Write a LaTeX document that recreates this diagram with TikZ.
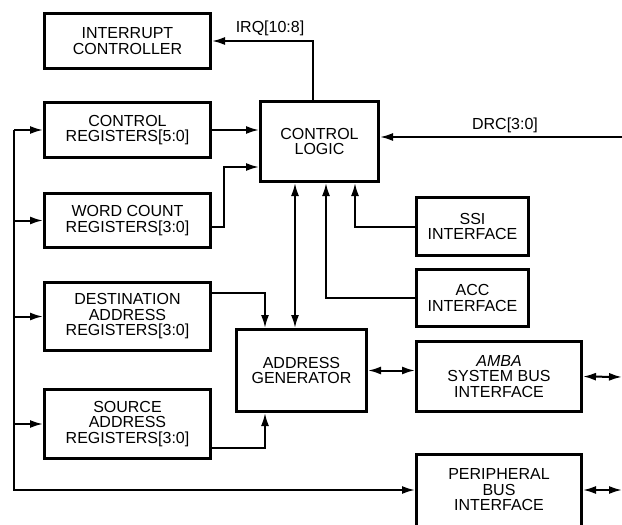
\documentclass[tikz,border=0pt]{standalone}
\usepackage{fontspec}
\setmainfont{Liberation Sans}
\usetikzlibrary{arrows.meta,positioning}

\begin{document}
\begin{tikzpicture}[
  x=1pt, y=-1pt,
  box/.style={draw,line width=3pt,align=center,inner sep=0pt,font=\fontsize{16}{15.5}\selectfont},
  lbl/.style={font=\fontsize{16}{15.5}\selectfont},
  arr/.style={-{Latex[length=13pt,width=8pt]},line width=2pt},
  darr/.style={{Latex[length=13pt,width=8pt]}-{Latex[length=13pt,width=8pt]},line width=2pt}
]
\useasboundingbox (0,0) rectangle (622,525);
\node[box,minimum width=166pt,minimum height=55pt] (intc) at (127.5,41) {INTERRUPT\\CONTROLLER};
\node[box,minimum width=166pt,minimum height=55pt] (ctrlreg) at (127.5,130) {CONTROL\\REGISTERS[5:0]};
\node[box,minimum width=166pt,minimum height=54pt] (wcreg) at (127.5,220.5) {WORD COUNT\\REGISTERS[3:0]};
\node[box,minimum width=166pt,minimum height=68pt] (dest) at (127.5,316.5) {DESTINATION\\ADDRESS\\REGISTERS[3:0]};
\node[box,minimum width=166pt,minimum height=69pt] (src) at (127.5,424) {SOURCE\\ADDRESS\\REGISTERS[3:0]};
\node[box,minimum width=118pt,minimum height=80pt] (logic) at (319.5,141.5) {CONTROL\\LOGIC};
\node[box,minimum width=130pt,minimum height=82pt] (addr) at (301.5,370.5) {ADDRESS\\GENERATOR};
\node[box,minimum width=112pt,minimum height=58pt] (ssi) at (472.5,226.5) {SSI\\INTERFACE};
\node[box,minimum width=112pt,minimum height=57pt] (acc) at (472.5,298) {ACC\\INTERFACE};
\node[box,minimum width=165pt,minimum height=70pt] (amba) at (499,376.5) {\textit{AMBA}\\SYSTEM BUS\\INTERFACE};
\node[box,minimum width=165pt,minimum height=72pt] (periph) at (499,490) {PERIPHERAL\\BUS\\INTERFACE};

% outer ends
\coordinate (busTop) at (14,130);
\coordinate (busBot) at (14,490);
\coordinate (drcIn) at (622,137);
\coordinate (ambaOut) at (622,377);
\coordinate (perOut) at (622,490);

% register bus
\draw[arr] (busTop) -- (busBot) -- (periph.west);
\draw[arr] (busTop) -- (ctrlreg.west);
\draw[arr] (busTop |- wcreg.west) -- (wcreg.west);
\draw[arr] (busTop |- dest.west) -- (dest.west);
\draw[arr] (busTop |- src.west) -- (src.west);

% into control logic
\draw[arr] (ctrlreg.east) -- (ctrlreg.east -| logic.west);
\draw[arr] ([yshift=-6pt]wcreg.east) -- +(12,0) |- ([yshift=-25.5pt]logic.west);
\draw[arr] ([xshift=-6.5pt]logic.north) |- (intc.east);
\node[lbl] (irq) at (270,28) {IRQ[10:8]};
\draw[arr] (drcIn) -- (drcIn -| logic.east);
\node[lbl] (drc) at (505,125) {DRC[3:0]};
\draw[arr] (ssi.west) -| ([xshift=35.5pt]logic.south);
\draw[arr] (acc.west) -| ([xshift=6.5pt]logic.south);

% address path
\draw[darr] ([xshift=-24.5pt]logic.south) -- ([xshift=-24.5pt]logic.south |- addr.north);
\draw[arr] ([yshift=23.5pt]dest.east) -| ([xshift=-36.5pt]addr.north);
\draw[arr] ([yshift=-24pt]src.east) -| ([xshift=-36.5pt]addr.south);
\draw[darr] (addr.east) -- (addr.east -| amba.west);
\draw[darr] (amba.east) -- (ambaOut);
\draw[darr] (periph.east) -- (perOut);
\end{tikzpicture}
\end{document}
